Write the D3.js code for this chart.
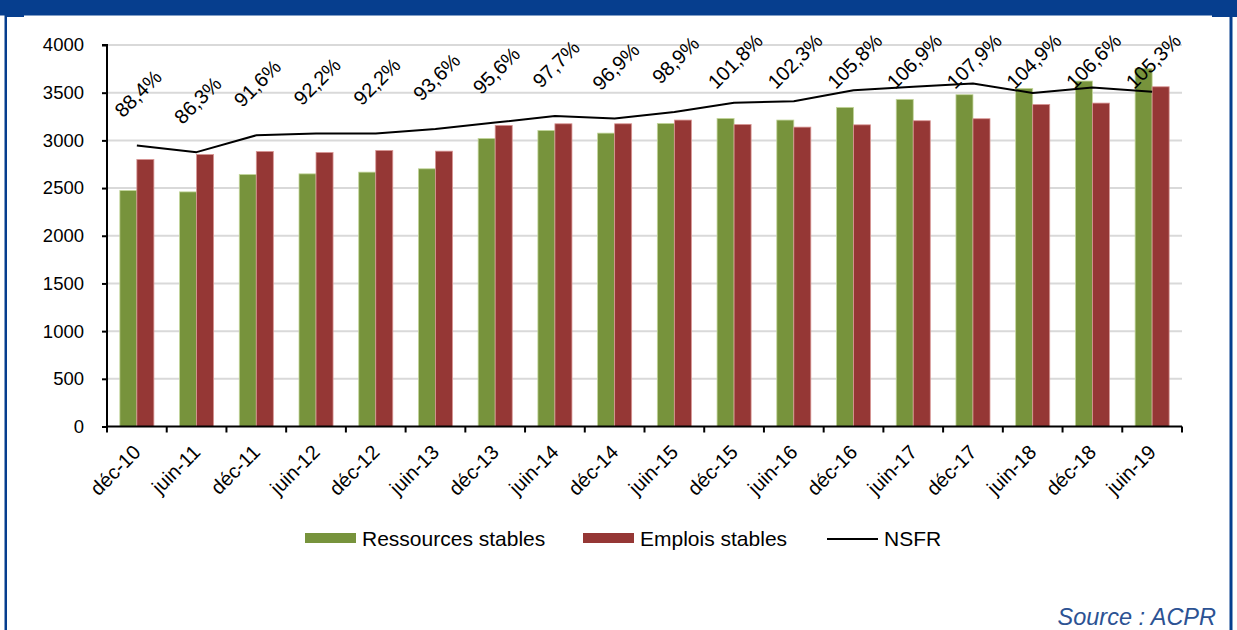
<!DOCTYPE html>
<html lang="fr">
<head>
<meta charset="utf-8">
<title>Ressources et emplois stables – NSFR</title>
<script src="https://cdn.jsdelivr.net/npm/d3@7"></script>
<style>
  html, body { margin: 0; padding: 0; background: #fff; }
  svg { display: block; font-family: "Liberation Sans", Arial, sans-serif; }
</style>
</head>
<body>
<svg id="chart" width="1237" height="630"></svg>
<script>
// Half-year reporting dates
const categories = ["déc-10", "juin-11", "déc-11", "juin-12", "déc-12", "juin-13", "déc-13", "juin-14", "déc-14",
                    "juin-15", "déc-15", "juin-16", "déc-16", "juin-17", "déc-17", "juin-18", "déc-18", "juin-19"];
// Stable funding available (left axis)
const ressourcesStables = [2474, 2460, 2642, 2649, 2667, 2702, 3020, 3104, 3076, 3178, 3230, 3213, 3346, 3430, 3479, 3545, 3622, 3755];
// Stable funding required (left axis)
const emploisStables = [2800, 2852, 2884, 2873, 2894, 2887, 3157, 3174, 3174, 3213, 3167, 3139, 3163, 3206, 3227, 3377, 3391, 3562];
// Net Stable Funding Ratio, in % (hidden right axis 0–120 %)
const nsfr = [88.4, 86.3, 91.6, 92.2, 92.2, 93.6, 95.6, 97.7, 96.9, 98.9, 101.8, 102.3, 105.8, 106.9, 107.9, 104.9, 106.6, 105.3];
const yTicks = [0, 500, 1000, 1500, 2000, 2500, 3000, 3500, 4000];
const seriesNames = ["Ressources stables", "Emplois stables", "NSFR"];

const COLORS = { green: "#77933c", red: "#953735", frame: "#063e8e", source: "#2c5293" };
const FONT = "\"Liberation Sans\", Arial, sans-serif";

const svg = d3.select("#chart");

// ---- outer frame
svg.append("rect").attr("x", 0).attr("y", 0).attr("width", 1237).attr("height", 15.5).attr("fill", COLORS.frame);
svg.append("rect").attr("x", 7).attr("y", 15).attr("width", 17).attr("height", 2).attr("fill", COLORS.frame);
svg.append("rect").attr("x", 1212).attr("y", 15).attr("width", 25).attr("height", 2).attr("fill", COLORS.frame);
svg.append("rect").attr("x", 4.5).attr("y", 0).attr("width", 2.5).attr("height", 630).attr("fill", COLORS.frame);
svg.append("rect").attr("x", 1229.5).attr("y", 0).attr("width", 3).attr("height", 630).attr("fill", COLORS.frame);

// ---- plot geometry
const plot = { left: 107, right: 1182, top: 45, bottom: 426.5 };

const x0 = d3.scaleBand().domain(categories).range([plot.left, plot.right])
  .paddingInner(0.43).paddingOuter(0.215);
const x1 = d3.scaleBand().domain([0, 1]).range([0, x0.bandwidth()]);
const y = d3.scaleLinear().domain([0, 4000]).range([plot.bottom, plot.top]);
const y2 = d3.scaleLinear().domain([0, 120]).range([plot.bottom, plot.top]);
const cx = c => x0(c) + x0.bandwidth() / 2;

// ---- gridlines
svg.append("g")
  .selectAll("line").data(yTicks.filter(t => t > 0)).join("line")
  .attr("x1", plot.left).attr("x2", plot.right)
  .attr("y1", d => y(d)).attr("y2", d => y(d))
  .attr("stroke", "#d9d9d9").attr("stroke-width", 2);

// ---- bars
const bars = svg.append("g");
categories.forEach((c, i) => {
  bars.append("rect")
    .attr("x", x0(c) + x1(0)).attr("width", x1.bandwidth())
    .attr("y", y(ressourcesStables[i])).attr("height", y(0) - y(ressourcesStables[i]))
    .attr("fill", COLORS.green).attr("stroke", "#c3d69b").attr("stroke-width", 0.8);
  bars.append("rect")
    .attr("x", x0(c) + x1(1)).attr("width", x1.bandwidth())
    .attr("y", y(emploisStables[i])).attr("height", y(0) - y(emploisStables[i]))
    .attr("fill", COLORS.red).attr("stroke", "#d99694").attr("stroke-width", 0.8);
});

// ---- NSFR line
const line = d3.line().x((d, i) => cx(categories[i])).y(d => y2(d));
svg.append("path").datum(nsfr)
  .attr("d", line).attr("fill", "none")
  .attr("stroke", "#000").attr("stroke-width", 2).attr("stroke-linejoin", "round");

// ---- Y axis
const yAxis = d3.axisLeft(y).tickValues(yTicks).tickSize(5).tickPadding(18).tickFormat(d3.format("d"));
const gy = svg.append("g").attr("transform", `translate(${plot.left},0)`).call(yAxis);
gy.select(".domain").attr("stroke", "#000").attr("stroke-width", 2).attr("d", `M-5,${plot.top}H0V${plot.bottom}`);
gy.selectAll(".tick line").attr("stroke", "#000").attr("stroke-width", 2);
gy.selectAll(".tick text").attr("fill", "#000").style("font-size", "18.5px").style("font-family", FONT);

// ---- X axis (ticks at category boundaries)
const gx = svg.append("g").attr("transform", `translate(0,${plot.bottom})`);
gx.append("line").attr("x1", plot.left).attr("x2", plot.right).attr("y1", 0).attr("y2", 0)
  .attr("stroke", "#000").attr("stroke-width", 2);
const step = x0.step();
const boundaries = d3.range(categories.length + 1).map(i => plot.left + i * step);
gx.selectAll("line.tk").data(boundaries).join("line").attr("class", "tk")
  .attr("x1", d => d).attr("x2", d => d).attr("y1", 0).attr("y2", 6)
  .attr("stroke", "#000").attr("stroke-width", 2);
gx.selectAll("text").data(categories).join("text")
  .attr("transform", d => `translate(${cx(d) + 5},${27}) rotate(-45)`)
  .attr("text-anchor", "end")
  .style("font-size", "20px").style("font-family", FONT).attr("fill", "#000")
  .text(d => d);

// ---- NSFR data labels, rotated, kept inside the chart area
const fmt = v => v.toFixed(1).replace(".", ",") + "%";
const labels = svg.append("g");
nsfr.forEach((v, i) => {
  const g = labels.append("g");
  const t = g.append("text").attr("text-anchor", "middle").attr("dy", "0.36em")
    .style("font-size", "20px").style("font-family", FONT).attr("fill", "#000")
    .text(fmt(v));
  const L = t.node().getComputedTextLength();
  const h = 14.3;
  const bh = (L + h) * Math.SQRT1_2;
  const py = y2(v);
  let cy = py - 27 - bh / 2;
  cy = Math.max(cy, 32 + bh / 2);
  g.attr("transform", `translate(${cx(categories[i]) + 1},${cy}) rotate(-45)`);
});

// ---- legend
const legend = svg.append("g").style("font-family", FONT).style("font-size", "21px");
const legendItems = [
  { name: seriesNames[0], type: "rect", color: COLORS.green, x: 305 },
  { name: seriesNames[1], type: "rect", color: COLORS.red, x: 583 },
  { name: seriesNames[2], type: "line", color: "#000", x: 827 }
];
legendItems.forEach(it => {
  if (it.type === "rect") {
    legend.append("rect").attr("x", it.x).attr("y", 533).attr("width", 51).attr("height", 10).attr("fill", it.color);
  } else {
    legend.append("line").attr("x1", it.x).attr("x2", it.x + 51).attr("y1", 539).attr("y2", 539)
      .attr("stroke", it.color).attr("stroke-width", 2);
  }
  legend.append("text").attr("x", it.x + 57).attr("y", 546).attr("fill", "#000").text(it.name);
});

// ---- source
svg.append("text").attr("x", 1216).attr("y", 625).attr("text-anchor", "end")
  .style("font-family", FONT).style("font-size", "23.5px").style("font-style", "italic")
  .attr("fill", COLORS.source).text("Source : ACPR");
</script>
</body>
</html>
